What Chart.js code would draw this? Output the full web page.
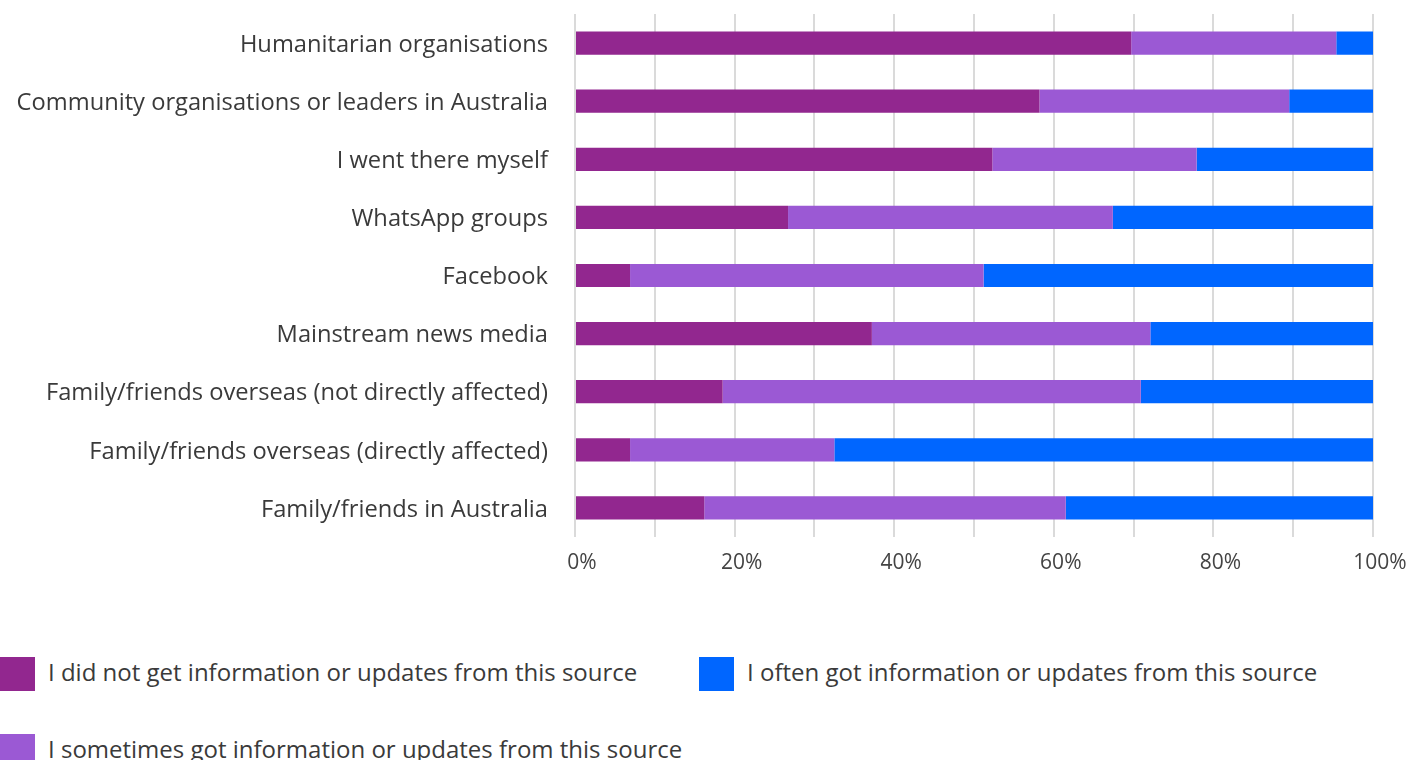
<!DOCTYPE html>
<html>
<head>
<meta charset="utf-8">
<script src="https://cdn.jsdelivr.net/npm/chart.js@4"></script>
<style>
  html, body { margin: 0; padding: 0; background: #fff; width: 1407px; height: 760px; overflow: hidden; }
  #wrap { position: absolute; left: 0; top: 0; width: 1407px; height: 600px; }
  .legend-item { position: absolute; height: 34px; display: flex; align-items: center;
                 font-family: "Open Sans", sans-serif; font-size: 24px; color: #3a3a3a; white-space: nowrap; }
  .legend-box { width: 35px; height: 34px; margin-right: 13px; flex: none; }
  .legend-text { position: relative; top: -3px; }
</style>
</head>
<body>
<div id="wrap"><canvas id="chart"></canvas></div>
<div id="legend"></div>
<script>
// Information sources, listed top to bottom
const sources = [
  "Humanitarian organisations",
  "Community organisations or leaders in Australia",
  "I went there myself",
  "WhatsApp groups",
  "Facebook",
  "Mainstream news media",
  "Family/friends overseas (not directly affected)",
  "Family/friends overseas (directly affected)",
  "Family/friends in Australia"
];

const seriesNames = [
  "I did not get information or updates from this source",
  "I sometimes got information or updates from this source",
  "I often got information or updates from this source"
];

// Share of respondents (%) per source
const didNot    = [69.7, 58.2, 52.3, 26.7,  6.9, 37.2, 18.5,  6.9, 16.2];
const sometimes = [25.7, 31.3, 25.6, 40.7, 44.3, 34.9, 52.4, 25.6, 45.3];
const often     = [ 4.6, 10.5, 22.1, 32.6, 48.8, 27.9, 29.1, 67.5, 38.5];

const colors = ["#92278f", "#9b59d4", "#0066ff"];
const tickValues = [0, 20, 40, 60, 80, 100];

const values = [didNot, sometimes, often];
const datasets = seriesNames.map((name, i) => ({
  label: name,
  data: values[i],
  backgroundColor: colors[i],
  borderWidth: 0,
  categoryPercentage: 1.0,
  barPercentage: 0.4
}));

const chart = new Chart(document.getElementById("chart"), {
  type: "bar",
  data: { labels: sources, datasets },
  options: {
    indexAxis: "y",
    responsive: true,
    maintainAspectRatio: false,
    animation: false,
    layout: { padding: { top: 14, right: 34, bottom: 23, left: 0 } },
    plugins: { legend: { display: false }, tooltip: { enabled: false } },
    scales: {
      x: {
        stacked: true,
        min: 0,
        max: 100,
        border: { display: false },
        grid: { color: "#dadada", lineWidth: 2, drawTicks: false },
        ticks: {
          stepSize: 10,
          autoSkip: false,
          maxRotation: 0,
          padding: 13,
          labelOffset: 7,
          color: "#444",
          font: { family: "Open Sans", size: 21 },
          callback: v => tickValues.includes(v) ? v + "%" : ""
        },
        afterFit: s => { s.height = 40; s.paddingLeft = 0; s.paddingRight = 0; }
      },
      y: {
        stacked: true,
        border: { display: false },
        grid: { display: false, drawTicks: false },
        ticks: {
          padding: 27,
          labelOffset: 2,
          color: "#3a3a3a",
          font: { family: "Open Sans", size: 23.7 }
        },
        afterFit: s => { s.width = 575; s.paddingTop = 0; s.paddingBottom = 0; }
      }
    }
  }
});

// Legend laid out in two columns below the plot
const legendPos = [[0, 657], [0, 734], [699, 657]];
const legendEl = document.getElementById("legend");
chart.data.datasets.forEach((ds, i) => {
  const item = document.createElement("div");
  item.className = "legend-item";
  item.style.left = legendPos[i][0] + "px";
  item.style.top = legendPos[i][1] + "px";
  const box = document.createElement("span");
  box.className = "legend-box";
  box.style.background = ds.backgroundColor;
  const text = document.createElement("span");
  text.className = "legend-text";
  text.textContent = ds.label;
  item.appendChild(box);
  item.appendChild(text);
  legendEl.appendChild(item);
});
</script>
</body>
</html>
